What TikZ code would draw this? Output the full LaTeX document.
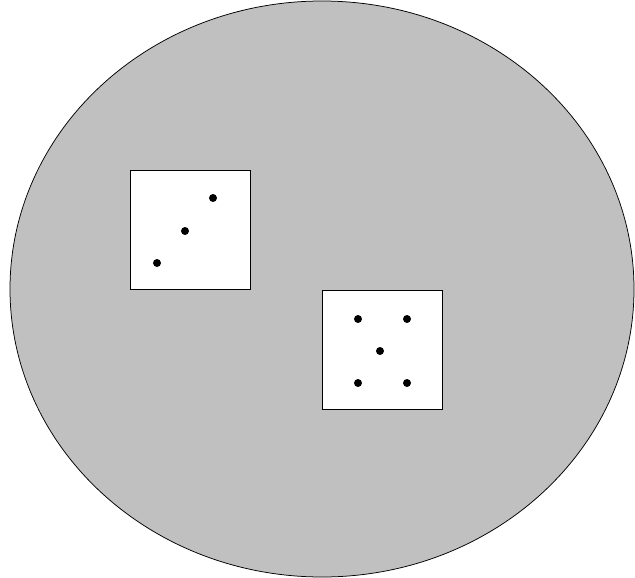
\documentclass[tikz,border=0pt]{standalone}
\usepackage{xcolor}
\usepackage{tikz}
\definecolor{DiceGray}{HTML}{C0C0C0}

\begin{document}
\begin{tikzpicture}[x=1pt,y=-1pt,line width=0.75pt]
\path[use as bounding box] (0,0) rectangle (635,578);
\draw[fill=DiceGray] (322,289) ellipse (312 and 288);
% die showing three
\draw[fill=white] (130,170) rectangle (250,289);
\fill (213,198) circle (4);
\fill (185,231) circle (4);
\fill (157,263) circle (4);
% die showing five
\draw[fill=white] (322,290) rectangle (442,409);
\fill (358,319) circle (4);
\fill (407,319) circle (4);
\fill (380,351) circle (4);
\fill (358,383) circle (4);
\fill (407,383) circle (4);
\end{tikzpicture}
\end{document}
